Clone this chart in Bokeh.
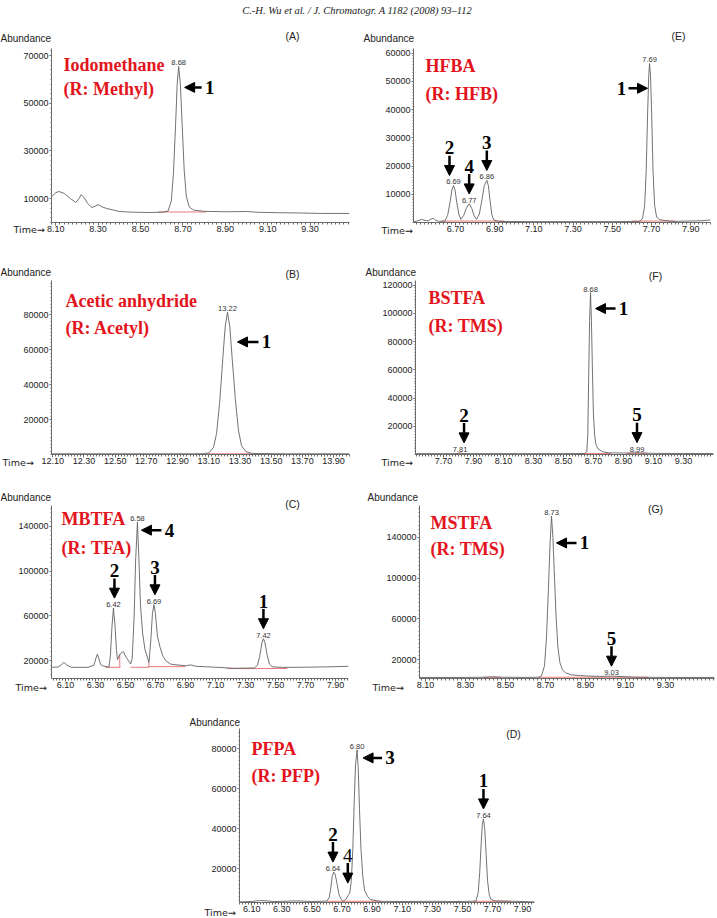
import numpy as np
from bokeh.plotting import figure
from bokeh.layouts import column, row
from bokeh.models import (Range1d, FixedTicker, PrintfTickFormatter, Arrow, NormalHead,
                          ColumnDataSource, Spacer, GridBox)
from bokeh.core.properties import value
from bokeh.embed import file_html
from bokeh.resources import INLINE

HEADER = "C.-H. Wu et al. / J. Chromatogr. A  1182 (2008) 93\u2013112"

# ---------------- Panel A : Iodomethane ----------------
A_time = [8.08, 8.10, 8.115, 8.14, 8.17, 8.195, 8.21, 8.22, 8.235, 8.25, 8.27, 8.285, 8.30, 8.32,
          8.34, 8.40, 8.47, 8.54, 8.60, 8.63, 8.645, 8.655, 8.665, 8.673, 8.68, 8.688, 8.697,
          8.706, 8.716, 8.73, 8.75, 8.80, 8.90, 9.00, 9.05, 9.15, 9.25, 9.35, 9.486]
A_abund = [10800, 12500, 13000, 12200, 10000, 8400, 10000, 11700, 10300, 8000, 6300, 6800, 7500, 6500,
           5900, 4600, 4300, 4200, 4300, 4800, 9000, 20000, 40000, 58000, 65500, 58000, 40000,
           22000, 11000, 6500, 5200, 4700, 4500, 4600, 4300, 4100, 4000, 3800, 3800]
A_peak_time = [8.68]
A_peak_abund = [65500]
A_peak_label = ["8.68"]
A_xticks = [8.10, 8.30, 8.50, 8.70, 8.90, 9.10, 9.30]
A_yticks = [10000, 30000, 50000, 70000]
A_red = ([8.585], [8.81], [4400])
A_arrows = [("left", 8.68, 65500, 6, 21, 17, "1", "bold")]

# ---------------- Panel E : HFBA ----------------
E_time = [6.486, 6.50, 6.527, 6.545, 6.561, 6.575, 6.587, 6.60, 6.62, 6.646, 6.66, 6.672, 6.682,
          6.69, 6.698, 6.707, 6.717, 6.727, 6.742, 6.755, 6.77, 6.783, 6.795, 6.807, 6.822, 6.835,
          6.847, 6.86, 6.868, 6.876, 6.885, 6.895, 6.92, 7.10, 7.30, 7.50, 7.64, 7.655, 7.665,
          7.673, 7.68, 7.686, 7.69, 7.695, 7.701, 7.708, 7.716, 7.726, 7.74, 7.78, 7.82, 7.95, 8.001]
E_abund = [300, 400, 1100, 700, 600, 1200, 1500, 700, 400, 500, 2500, 7000, 11500,
           13100, 11500, 7000, 3000, 1100, 2500, 5000, 6600, 5000, 2500, 1100, 3000, 8000,
           13000, 14900, 13000, 8000, 3000, 900, 400, 300, 300, 300, 400, 1500, 6000,
           18000, 38000, 52000, 56300, 52000, 38000, 18000, 6000, 2000, 1000, 600, 400, 600, 900]
E_peak_time = [6.69, 6.77, 6.86, 7.69]
E_peak_abund = [13100, 6600, 14900, 56300]
E_peak_label = ["6.69", "6.77", "6.86", "7.69"]
E_xticks = [6.70, 6.90, 7.10, 7.30, 7.50, 7.70, 7.90]
E_yticks = [10000, 20000, 30000, 40000, 50000, 60000]
E_red = ([6.63, 7.60], [6.95, 7.82], [500, 500])
E_arrows = [("right", 7.69, 56300, -2, 25, 19, "1", "bold"),
            ("down", 6.69, 13100, -4, 0, 0, "2", "bold"),
            ("down", 6.77, 6600, 0, 0, 0, "4", "bold"),
            ("down", 6.86, 14900, 0, 0, 0, "3", "bold")]

# ---------------- Panel B : Acetic anhydride ----------------
B_time = [12.092, 12.50, 13.0, 13.07, 13.10, 13.13, 13.15, 13.17, 13.19, 13.205, 13.22, 13.235,
          13.25, 13.27, 13.29, 13.31, 13.34, 13.38, 13.6, 14.002]
B_abund = [400, 400, 400, 500, 900, 4000, 12000, 30000, 55000, 73000, 81500, 73000,
           55000, 32000, 14000, 5000, 1500, 600, 400, 400]
B_peak_time = [13.22]
B_peak_abund = [81500]
B_peak_label = ["13.22"]
B_xticks = [12.10, 12.30, 12.50, 12.70, 12.90, 13.10, 13.30, 13.50, 13.70, 13.90]
B_yticks = [20000, 40000, 60000, 80000]
B_red = ([13.09], [13.38], [400])
B_arrows = [("left", 13.22, 81500, 10, 30, 21, "1", "bold")]

# ---------------- Panel F : BSTFA ----------------
F_time = [7.513, 7.70, 7.79, 7.80, 7.81, 7.82, 7.83, 8.20, 8.50, 8.64, 8.655, 8.662, 8.667, 8.674,
          8.68, 8.686, 8.693, 8.699, 8.707, 8.716, 8.73, 8.76, 8.80, 8.90, 8.97, 8.99, 9.01, 9.10,
          9.30, 9.50]
F_abund = [600, 600, 600, 900, 1200, 900, 600, 600, 600, 700, 2000, 15000, 50000, 95000,
           114600, 95000, 58000, 30000, 14000, 7000, 4000, 2000, 1200, 1000, 1100, 1400, 1100, 800,
           700, 700]
F_peak_time = [7.81, 8.68, 8.99]
F_peak_abund = [1200, 114600, 1400]
F_peak_label = ["7.81", "8.68", "8.99"]
F_xticks = [7.70, 7.90, 8.10, 8.30, 8.50, 8.70, 8.90, 9.10, 9.30]
F_yticks = [20000, 40000, 60000, 80000, 100000, 120000]
F_red = ([7.77, 8.60, 8.92], [7.86, 8.82, 9.06], [600, 650, 800])
F_arrows = [("left", 8.68, 114600, 5, 16, 20, "1", "bold"),
            ("down", 7.81, 1200, 4, 0, 0, "2", "bold"),
            ("down", 8.99, 1400, 0, 0, 0, "5", "bold")]

# ---------------- Panel C : MBTFA ----------------
C_time = [6.007, 6.05, 6.07, 6.09, 6.11, 6.14, 6.25, 6.29, 6.305, 6.313, 6.322, 6.335, 6.346, 6.39,
          6.40, 6.41, 6.42, 6.43, 6.44, 6.447, 6.465, 6.487, 6.50, 6.535, 6.545, 6.558, 6.568,
          6.58, 6.59, 6.60, 6.614, 6.63, 6.657, 6.67, 6.68, 6.69, 6.70, 6.713, 6.731, 6.75,
          6.769, 6.80, 6.824, 6.90, 6.935, 6.97, 7.11, 7.22, 7.36, 7.38, 7.395, 7.41, 7.42,
          7.43, 7.445, 7.46, 7.48, 7.55, 7.70, 7.85, 7.987]
C_abund = [14100, 14300, 16000, 18500, 16000, 14100, 14100, 16000, 23000, 25900, 22000, 16500, 15600, 14100,
           25000, 50000, 67000, 52000, 30000, 21000, 26000, 28200, 24000, 17000, 22000, 60000, 110000,
           143600, 110000, 70000, 45000, 30000, 18500, 40000, 62000, 70000, 62000, 42000, 31800, 24000,
           20000, 17000, 16500, 15500, 16200, 15000, 14100, 13200, 13500, 16000, 24000, 36000, 39700,
           36000, 25000, 17000, 14500, 14000, 14200, 14500, 15000]
C_peak_time = [6.42, 6.58, 6.69, 7.42]
C_peak_abund = [67000, 143600, 70000, 39700]
C_peak_label = ["6.42", "6.58", "6.69", "7.42"]
C_xticks = [6.10, 6.30, 6.50, 6.70, 6.90, 7.10, 7.30, 7.50, 7.70, 7.90]
C_yticks = [20000, 60000, 100000, 140000]
C_red = ([6.367, 6.534, 6.656, 7.178], [6.467, 6.656, 6.90, 7.578], [14100, 14100, 14700, 13000])
C_drop = ([6.462, 6.656], [14100, 14100], [26000, 18500])
C_arrows = [("down", 6.42, 67000, 1, 0, 0, "2", "bold"),
            ("left", 6.58, 143600, 4, 8, 20, "4", "bold"),
            ("down", 6.69, 70000, 1, 0, 0, "3", "bold"),
            ("down", 7.42, 39700, 0, 0, 0, "1", "bold")]

# ---------------- Panel G : MSTFA ----------------
G_time = [8.07, 8.30, 8.40, 8.44, 8.48, 8.60, 8.665, 8.68, 8.695, 8.705, 8.715, 8.723, 8.73, 8.737,
          8.745, 8.753, 8.762, 8.772, 8.785, 8.80, 8.83, 8.90, 8.97, 9.03, 9.10, 9.15, 9.30, 9.545]
G_abund = [2500, 2500, 2700, 3200, 2700, 2500, 2700, 4000, 14000, 42000, 92000, 135000, 160800, 140000,
           100000, 62000, 32000, 17000, 10000, 7000, 5000, 4000, 3500, 3800, 3200, 2700, 2500, 2500]
G_peak_time = [8.73, 9.03]
G_peak_abund = [160800, 3800]
G_peak_label = ["8.73", "9.03"]
G_xticks = [8.10, 8.30, 8.50, 8.70, 8.90, 9.10, 9.30]
G_yticks = [20000, 60000, 100000, 140000]
G_red = ([8.39, 8.665], [8.48, 9.215], [2600, 2700])
G_arrows = [("left", 8.73, 160800, 5, 27, 20, "1", "bold"),
            ("down", 9.03, 3800, 0, 0, 0, "5", "bold")]

# ---------------- Panel D : PFPA ----------------
D_time = [6.019, 6.10, 6.16, 6.25, 6.40, 6.50, 6.60, 6.615, 6.625, 6.635, 6.645, 6.655, 6.668, 6.68,
          6.695, 6.71, 6.725, 6.74, 6.752, 6.762, 6.772, 6.782, 6.79, 6.80, 6.808, 6.816, 6.826,
          6.838, 6.85, 6.87, 6.89, 6.95, 7.10, 7.30, 7.50, 7.59, 7.605, 7.615, 7.625, 7.632, 7.64,
          7.648, 7.657, 7.667, 7.678, 7.69, 7.72, 7.85, 7.979]
D_abund = [3300, 3500, 4000, 3500, 3800, 3500, 3700, 5500, 10000, 16000, 18200, 17000, 12000, 7000,
           4500, 3800, 4500, 6500, 7700, 14000, 30000, 55000, 72000, 79300, 70000, 50000, 30000,
           16000, 9000, 6000, 4500, 3600, 3500, 3600, 3500, 3700, 8000, 18000, 33000, 42000, 44800,
           40000, 28000, 14000, 7000, 4500, 3800, 3600, 3300]
D_peak_time = [6.64, 6.80, 7.64]
D_peak_abund = [18200, 79300, 44800]
D_peak_label = ["6.64", "6.80", "7.64"]
D_xticks = [6.10, 6.30, 6.50, 6.70, 6.90, 7.10, 7.30, 7.50, 7.70, 7.90]
D_yticks = [20000, 40000, 60000, 80000]
D_red = ([6.602, 7.575], [6.96, 7.82], [3600, 3600])
D_arrows = [("left", 6.80, 79300, 6, 8, 19, "3", "bold"),
            ("down", 6.64, 18200, 0, 0, 0, "2", "bold"),
            ("down", 6.752, 7700, -2, 0, 0, "4", "normal"),
            ("down", 7.64, 44800, 0, 0, 0, "1", "bold")]

REAGENT_NAME = {"A": "Iodomethane", "E": "HFBA", "B": "Acetic anhydride", "F": "BSTFA",
                "C": "MBTFA", "G": "MSTFA", "D": "PFPA"}
REAGENT_GROUP = {"A": "(R: Methyl)", "E": "(R: HFB)", "B": "(R: Acetyl)", "F": "(R: TMS)",
                 "C": "(R: TFA)", "G": "(R: TMS)", "D": "(R: PFP)"}

DATA = {
    "A": dict(t=A_time, a=A_abund, pt=A_peak_time, pa=A_peak_abund, pl=A_peak_label,
              xt=A_xticks, yt=A_yticks, red=A_red, drop=None, arrows=A_arrows),
    "E": dict(t=E_time, a=E_abund, pt=E_peak_time, pa=E_peak_abund, pl=E_peak_label,
              xt=E_xticks, yt=E_yticks, red=E_red, drop=None, arrows=E_arrows),
    "B": dict(t=B_time, a=B_abund, pt=B_peak_time, pa=B_peak_abund, pl=B_peak_label,
              xt=B_xticks, yt=B_yticks, red=B_red, drop=None, arrows=B_arrows),
    "F": dict(t=F_time, a=F_abund, pt=F_peak_time, pa=F_peak_abund, pl=F_peak_label,
              xt=F_xticks, yt=F_yticks, red=F_red, drop=None, arrows=F_arrows),
    "C": dict(t=C_time, a=C_abund, pt=C_peak_time, pa=C_peak_abund, pl=C_peak_label,
              xt=C_xticks, yt=C_yticks, red=C_red, drop=C_drop, arrows=C_arrows),
    "G": dict(t=G_time, a=G_abund, pt=G_peak_time, pa=G_peak_abund, pl=G_peak_label,
              xt=G_xticks, yt=G_yticks, red=G_red, drop=None, arrows=G_arrows),
    "D": dict(t=D_time, a=D_abund, pt=D_peak_time, pa=D_peak_abund, pl=D_peak_label,
              xt=D_xticks, yt=D_yticks, red=D_red, drop=None, arrows=D_arrows),
}

# ---- page geometry (pixels) ----
CFG = {
    "A": dict(w=360, h=218, bl=51, br=11, bt=26, bb=18, xr=(8.08, 9.486), yr=(0, 73000)),
    "E": dict(w=357, h=218, bl=53, br=7, bt=25, bb=18, xr=(6.486, 8.001), yr=(0, 61600)),
    "B": dict(w=360, h=240, bl=51, br=11, bt=38, bb=26, xr=(12.092, 14.002), yr=(0, 99700)),
    "F": dict(w=357, h=240, bl=55, br=4, bt=40, bb=25, xr=(7.513, 9.500), yr=(0, 123200)),
    "C": dict(w=360, h=220, bl=51, br=12, bt=23, bb=22, xr=(6.007, 7.987), yr=(4100, 158560)),
    "G": dict(w=357, h=220, bl=59, br=3, bt=25, bb=21, xr=(8.07, 9.545), yr=(1460, 171220)),
    "D": dict(w=360, h=218, bl=59, br=6, bt=28, bb=16, xr=(6.019, 7.979), yr=(3000, 90000)),
}
TAG_POS = {"A": (292, 35), "E": (678, 35), "B": (292, 273), "F": (655, 275),
           "C": (292, 503), "G": (655, 508), "D": (513, 733)}
ABUND_POS = {"A": (0, 38), "E": (363, 38), "B": (0, 272), "F": (365, 272),
             "C": (0, 497), "G": (367, 497), "D": (189, 722)}
TIME_POS = {"A": (13, 229), "E": (381, 230), "B": (2, 462), "F": (381, 462),
            "C": (15, 687), "G": (372, 687), "D": (204, 912)}
TITLE_POS = {"A": (63, 64, 88), "E": (425, 65, 93), "B": (65, 300, 327), "F": (428, 297, 325),
             "C": (61, 518, 547), "G": (430, 522, 548), "D": (251, 748, 775)}

SANS = "Liberation Sans"
SERIF = "Liberation Serif"
RED = "#e3141b"
AXIS = "#6a6a6a"


def build(key):
    cfg, d = CFG[key], DATA[key]
    x0, x1 = cfg["xr"]
    y0, y1 = cfg["yr"]
    p = figure(width=cfg["w"], height=cfg["h"], x_range=Range1d(x0, x1), y_range=Range1d(y0, y1),
               toolbar_location=None, output_backend="svg",
               min_border_left=cfg["bl"], min_border_right=cfg["br"],
               min_border_top=cfg["bt"], min_border_bottom=cfg["bb"])
    p.outline_line_color = None
    p.xgrid.grid_line_color = None
    p.ygrid.grid_line_color = None
    p.background_fill_alpha = 0
    p.border_fill_alpha = 0
    fw = cfg["w"] - cfg["bl"] - cfg["br"]
    fh = cfg["h"] - cfg["bt"] - cfg["bb"]
    kx = (x1 - x0) / fw
    ky = (y1 - y0) / fh

    xa = p.xaxis[0]
    minor_x = [round(v, 3) for v in np.arange(np.ceil(x0 / 0.02) * 0.02, x1, 0.02)]
    xa.ticker = FixedTicker(ticks=d["xt"], minor_ticks=minor_x)
    xa.formatter = PrintfTickFormatter(format="%.2f")
    ystep = d["yt"][1] - d["yt"][0]
    minor_y = [float(v) for v in np.arange(0, y1, ystep / 10.0) if v >= y0]
    ya = p.yaxis[0]
    ya.ticker = FixedTicker(ticks=d["yt"], minor_ticks=minor_y)
    ya.formatter = PrintfTickFormatter(format="%d")
    for ax in (xa, ya):
        ax.axis_line_color = AXIS
        ax.axis_line_width = 1
        ax.major_tick_line_color = AXIS
        ax.minor_tick_line_color = AXIS
        ax.major_tick_in = 0
        ax.minor_tick_in = 0
        ax.major_label_text_font = SANS
        ax.major_label_text_font_size = "9px"
        ax.major_label_text_color = "#222222"
    xa.major_tick_out = 3
    xa.minor_tick_out = 2
    xa.major_label_standoff = 0
    ya.major_tick_out = 2
    ya.minor_tick_out = 1
    ya.major_label_standoff = 1

    t0, t1, yv = d["red"]
    p.segment(x0=t0, y0=yv, x1=t1, y1=yv, line_color="#e46a6a", line_width=0.9)
    if d["drop"]:
        tt, ya0, ya1 = d["drop"]
        p.segment(x0=tt, y0=ya0, x1=tt, y1=ya1, line_color="#e46a6a", line_width=0.9)

    p.line(d["t"], d["a"], line_color="#626262", line_width=0.9)

    p.text(x=d["pt"], y=d["pa"], text=d["pl"], text_font=value(SANS), text_font_size="7.5px",
           text_color="#333333", text_align="center", text_baseline="bottom", y_offset=-1)

    xs0, ys0, xs1, ys1, nx, ny, nt, nw = [], [], [], [], [], [], [], []
    for kind, t, v, dx, dy, L, num, weight in d["arrows"]:
        if kind == "down":
            x = t + dx * kx
            xs0.append(x); xs1.append(x)
            ys0.append(v + 30 * ky); ys1.append(v + 10 * ky)
            nx.append(x); ny.append(v + 38 * ky)
        elif kind == "left":
            tip = t + dx * kx
            y = v - dy * ky
            xs0.append(tip + L * kx); xs1.append(tip)
            ys0.append(y); ys1.append(y)
            nx.append(tip + (L + 8) * kx); ny.append(y)
        else:
            tip = t + dx * kx
            y = v - dy * ky
            xs0.append(tip - L * kx); xs1.append(tip)
            ys0.append(y); ys1.append(y)
            nx.append(tip - (L + 7) * kx); ny.append(y)
        nt.append(num)
        nw.append(weight)
    src = ColumnDataSource(dict(x0=xs0, y0=ys0, x1=xs1, y1=ys1))
    p.add_layout(Arrow(end=NormalHead(size=10, fill_color="black", line_color="black", line_width=1),
                       x_start="x0", y_start="y0", x_end="x1", y_end="y1", source=src,
                       line_color="black", line_width=2.5))
    nsrc = ColumnDataSource(dict(x=nx, y=ny, text=nt, style=nw))
    p.text(x="x", y="y", text="text", source=nsrc, text_font=value(SERIF),
           text_font_style="style", text_font_size="19px", text_color="black",
           text_align="center", text_baseline="middle")
    return p


pA, pE, pB, pF, pC, pG, pD = (build(k) for k in "AEBFCGD")

base = column(Spacer(width=717, height=22), row(pA, pE), row(pB, pF), row(pC, pG),
              row(Spacer(width=180, height=218), pD, Spacer(width=177, height=218)))

# ---- transparent caption layer covering the whole page ----
ov = figure(width=717, height=918, x_range=Range1d(0, 717), y_range=Range1d(918, 0),
            toolbar_location=None, output_backend="svg", x_axis_type=None, y_axis_type=None,
            min_border=0)
ov.outline_line_color = None
ov.background_fill_alpha = 0
ov.border_fill_alpha = 0

keys = "AEBFCGD"
ov.text(x=[TAG_POS[k][0] for k in keys], y=[TAG_POS[k][1] for k in keys],
        text=["(%s)" % k for k in keys], text_font=value(SANS), text_font_size="10.5px",
        text_color="#222222", text_align="center", text_baseline="middle")
ov.text(x=[ABUND_POS[k][0] for k in keys], y=[ABUND_POS[k][1] for k in keys],
        text=["Abundance"] * len(keys), text_font=value(SANS), text_font_size="10px",
        text_color="#222222", text_align="left", text_baseline="middle")
ov.text(x=[TIME_POS[k][0] for k in keys], y=[TIME_POS[k][1] for k in keys],
        text=["Time\u2192"] * len(keys), text_font=value("DejaVu Sans"), text_font_size="9.5px",
        text_color="#222222", text_align="left", text_baseline="middle")
ov.text(x=[TITLE_POS[k][0] for k in keys] * 2,
        y=[TITLE_POS[k][1] for k in keys] + [TITLE_POS[k][2] for k in keys],
        text=[REAGENT_NAME[k] for k in keys] + [REAGENT_GROUP[k] for k in keys],
        text_font=value(SERIF), text_font_style="bold", text_font_size="18px",
        text_color=RED, text_align="left", text_baseline="middle")
ov.text(x=[358], y=[10], text=[HEADER], text_font=value(SERIF), text_font_style="italic",
        text_font_size="10.5px", text_color="#222222", text_align="center", text_baseline="middle")

page = GridBox(children=[(base, 0, 0), (ov, 0, 0)])

open("out.html", "w").write(file_html(page, INLINE, title="Chromatograms"))
